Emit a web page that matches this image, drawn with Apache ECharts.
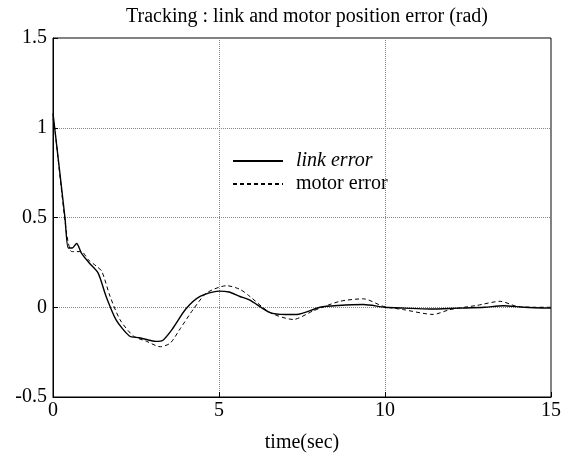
<!DOCTYPE html>
<html lang="en">
<head>
    <meta charset="UTF-8">
    <title>Tracking</title>
    <script src="https://cdn.jsdelivr.net/npm/echarts@6/dist/echarts.min.js"></script>
    <style>
        html, body { margin: 0; padding: 0; background: #fff; }
        #main { width: 575px; height: 467px; }
    </style>
</head>
<body>
<div id="main"></div>
<script>
    // link error (solid)
    var linkT = [0, 0.05, 0.36, 0.46, 0.58, 0.71, 0.86, 1.1, 1.36, 1.6, 1.9, 2.3, 2.6, 3.1, 3.3, 3.6, 4.0, 4.43, 5.0, 5.3, 5.63, 5.93, 6.54, 7.0, 7.34, 8.04, 8.6, 9.35, 10.0, 10.6, 11.36, 12.2, 13.0, 13.55, 14.2, 15];
    var linkY = [1.08, 1.0, 0.5, 0.33, 0.33, 0.355, 0.30, 0.245, 0.19, 0.06, -0.07, -0.16, -0.17, -0.19, -0.185, -0.12, -0.01, 0.06, 0.09, 0.085, 0.06, 0.04, -0.03, -0.04, -0.04, 0.0, 0.01, 0.015, 0.0, -0.005, -0.01, -0.005, 0.0, 0.008, 0.0, -0.005];
    // motor error (dashed)
    var motorT = [0, 0.05, 0.41, 0.56, 0.7, 0.86, 1.06, 1.3, 1.47, 1.72, 2.02, 2.42, 2.82, 3.23, 3.53, 3.83, 4.23, 4.63, 5.23, 5.63, 5.93, 6.54, 7.24, 7.84, 8.64, 9.35, 9.95, 10.55, 11.45, 11.96, 12.76, 13.47, 13.97, 14.5, 15];
    var motorY = [1.05, 1.0, 0.41, 0.31, 0.31, 0.31, 0.265, 0.23, 0.2, 0.06, -0.07, -0.16, -0.19, -0.22, -0.2, -0.12, -0.01, 0.08, 0.12, 0.1, 0.06, -0.03, -0.068, -0.02, 0.033, 0.047, 0.005, -0.013, -0.04, -0.013, 0.01, 0.033, 0.005, 0.0, 0.0];

    var xTicks = [0, 5, 10, 15];
    var yTicks = [-0.5, 0, 0.5, 1, 1.5];

    function pairs(t, y) {
        var out = [];
        for (var i = 0; i < t.length; i++) out.push([t[i], y[i]]);
        return out;
    }

    var font = '"Liberation Serif", "DejaVu Serif", serif';
    var myChart = echarts.init(document.getElementById('main'));

    var option = {
        animation: false,
        title: {
            text: 'Tracking : link and motor position error (rad)',
            left: 302,
            textAlign: 'center',
            top: 2,
            textStyle: { fontFamily: font, fontSize: 20, fontWeight: 'normal', color: '#000' }
        },
        legend: {
            orient: 'vertical',
            left: 227,
            top: 146,
            itemWidth: 50,
            itemHeight: 14,
            itemGap: 3,
            itemStyle: { opacity: 0 },
            textStyle: { fontFamily: font, fontSize: 20, color: '#000', padding: [0, 0, 0, 8] },
            data: [
                { name: 'link error', textStyle: { fontStyle: 'italic' } },
                { name: 'motor error' }
            ]
        },
        grid: {
            left: 53, right: 24, top: 38, bottom: 70,
            show: true,
            borderColor: '#000',
            borderWidth: 1
        },
        xAxis: {
            type: 'value',
            min: xTicks[0],
            max: xTicks[xTicks.length - 1],
            interval: 5,
            name: 'time(sec)',
            nameLocation: 'middle',
            nameGap: 36,
            nameTextStyle: { fontFamily: font, fontSize: 20, color: '#000' },
            axisLine: { onZero: false, lineStyle: { color: '#000' } },
            axisTick: { inside: true, length: 5, lineStyle: { color: '#000' } },
            axisLabel: { fontFamily: font, fontSize: 20, color: '#000', margin: 4 },
            splitLine: { show: true, lineStyle: { color: '#888', type: 'dotted', width: 1 } }
        },
        yAxis: {
            type: 'value',
            min: yTicks[0],
            max: yTicks[yTicks.length - 1],
            interval: 0.5,
            axisLine: { show: true, lineStyle: { color: '#000' } },
            axisTick: { show: true, inside: true, length: 5, lineStyle: { color: '#000' } },
            axisLabel: { fontFamily: font, fontSize: 20, color: '#000', margin: 6 },
            splitLine: { show: true, lineStyle: { color: '#888', type: 'dotted', width: 1 } }
        },
        series: [
            {
                name: 'link error',
                type: 'line',
                smooth: 0.25,
                symbol: 'none',
                data: pairs(linkT, linkY),
                lineStyle: { color: '#000', width: 1.4, type: 'solid' },
                itemStyle: { color: '#000' }
            },
            {
                name: 'motor error',
                type: 'line',
                smooth: 0.25,
                symbol: 'none',
                data: pairs(motorT, motorY),
                lineStyle: { color: '#000', width: 1, type: [4, 3] },
                itemStyle: { color: '#000' }
            }
        ]
    };

    myChart.setOption(option);
</script>
</body>
</html>
